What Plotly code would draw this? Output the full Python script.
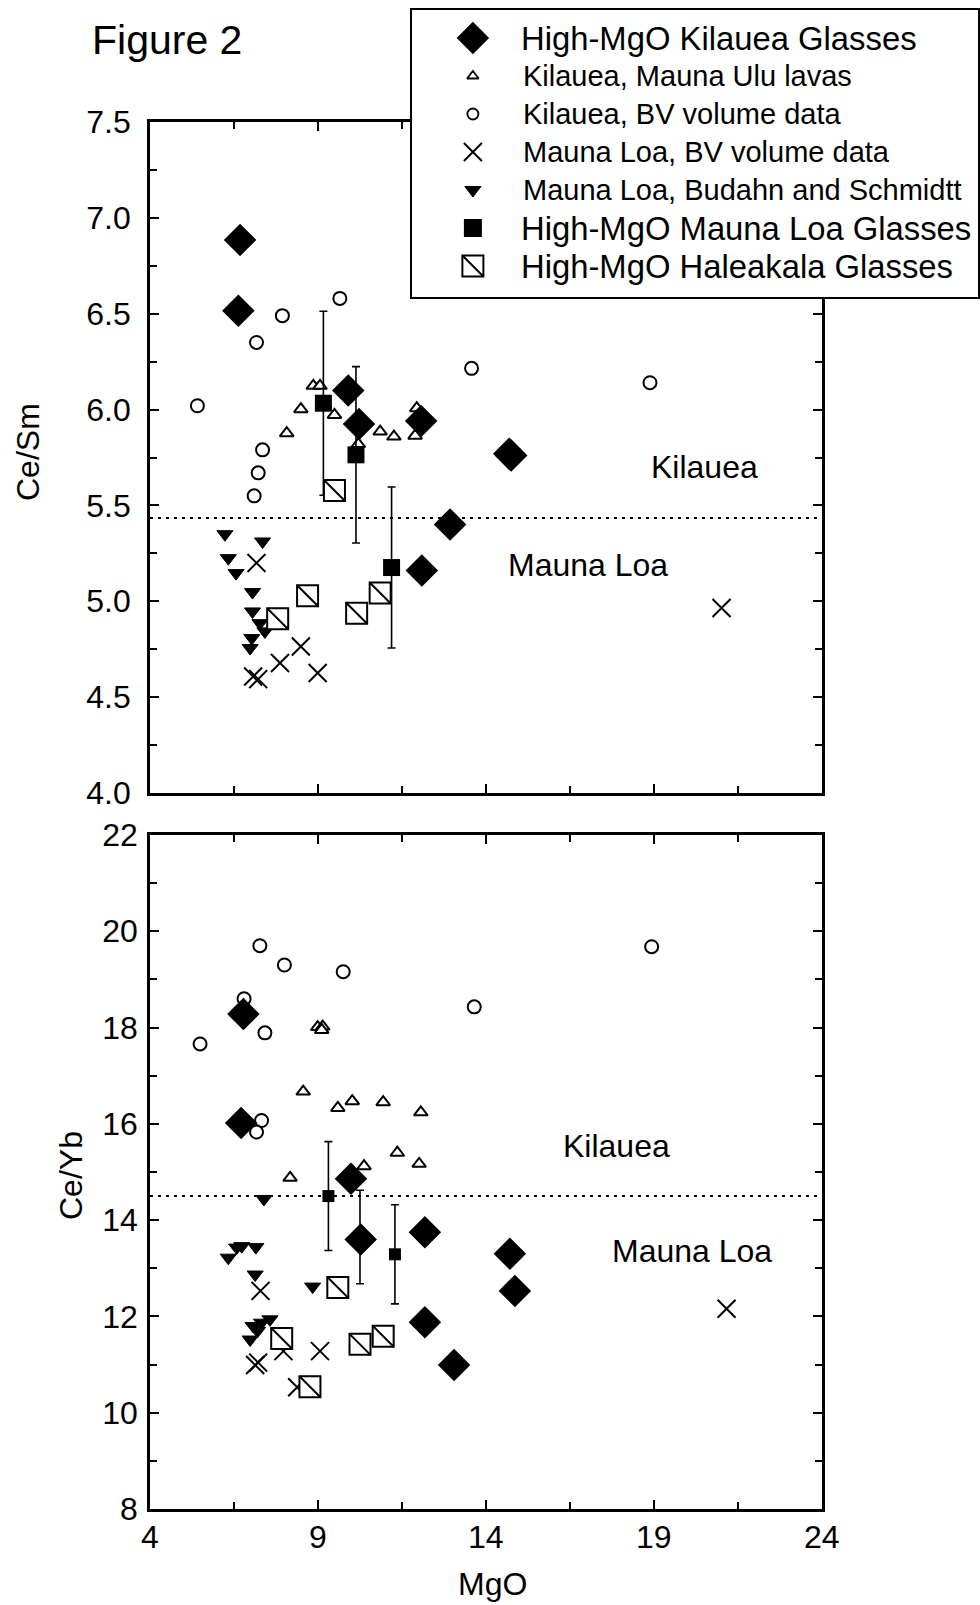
import plotly.graph_objects as go

# ---------------- data: upper panel (Ce/Sm vs MgO) ----------------
kil_glass_mgo_a = [6.68, 6.63, 9.90, 10.22, 12.07, 14.69, 14.75, 12.93, 12.09]
kil_glass_cesm = [6.885, 6.515, 6.10, 5.925, 5.94, 5.77, 5.76, 5.40, 5.16]

ulu_mgo_a = [8.07, 8.49, 8.86, 9.06, 9.49, 10.20, 10.85, 11.26, 11.89, 11.94]
ulu_cesm = [5.877, 6.002, 6.124, 6.124, 5.972, 5.82, 5.885, 5.859, 5.864, 6.007]

kbv_mgo_a = [5.41, 7.17, 7.94, 9.65, 7.35, 7.22, 7.10, 13.57, 18.88]
kbv_cesm = [6.02, 6.35, 6.49, 6.58, 5.79, 5.67, 5.55, 6.215, 6.14]

mlbv_mgo_a = [7.17, 7.87, 8.49, 8.99, 7.07, 7.22, 21.01]
mlbv_cesm = [5.20, 4.678, 4.764, 4.626, 4.608, 4.594, 4.965]

bs_mgo_a = [6.23, 7.35, 6.33, 6.56, 7.05, 7.05, 7.27, 7.42, 7.03, 6.98]
bs_cesm = [5.35, 5.312, 5.225, 5.147, 5.048, 4.947, 4.886, 4.843, 4.808, 4.756]

ml_glass_mgo_a = [9.16, 10.13, 11.19]
ml_glass_cesm = [6.033, 5.764, 5.176]
ml_glass_cesm_err = [0.48, 0.46, 0.42]

hal_mgo_a = [9.49, 8.69, 7.80, 10.15, 10.85]
hal_cesm = [5.578, 5.029, 4.909, 4.938, 5.043]

cesm_divide = 5.435

# ---------------- data: lower panel (Ce/Yb vs MgO) ----------------
kil_glass_mgo_b = [6.78, 6.71, 9.98, 10.27, 12.18, 12.18, 13.05, 14.71, 14.86]
kil_glass_ceyb = [18.28, 16.02, 14.86, 13.60, 13.75, 11.88, 10.99, 13.30, 12.53]

ulu_mgo_b = [8.99, 9.14, 9.11, 8.56, 9.59, 10.02, 10.94, 12.06, 11.36, 12.01, 10.37, 8.17]
ulu_ceyb = [18.01, 18.02, 17.95, 16.67, 16.33, 16.47, 16.45, 16.24, 15.40, 15.17, 15.12, 14.88]

kbv_mgo_b = [5.49, 7.27, 8.00, 9.75, 6.80, 7.42, 7.32, 7.17, 13.65, 18.93]
kbv_ceyb = [17.66, 19.70, 19.30, 19.16, 18.60, 17.89, 16.07, 15.83, 18.43, 19.68]

mlbv_mgo_b = [7.29, 9.06, 7.97, 7.22, 7.13, 8.38, 21.16]
mlbv_ceyb = [12.53, 11.28, 11.28, 11.04, 10.99, 10.53, 12.16]

bs_mgo_b = [7.39, 6.33, 6.58, 6.73, 7.15, 7.13, 8.84, 7.07, 7.32, 7.57, 6.98, 7.20]
bs_ceyb = [14.44, 13.22, 13.43, 13.46, 13.44, 12.87, 12.62, 11.80, 11.87, 11.94, 11.52, 11.70]

ml_glass_mgo_b = [9.31, 10.25, 11.29]
ml_glass_ceyb = [14.50, 13.65, 13.29]
ml_glass_ceyb_err = [1.13, 0.97, 1.03]

hal_mgo_b = [9.59, 7.92, 10.25, 10.94, 8.76]
hal_ceyb = [12.60, 11.54, 11.42, 11.59, 10.54]

ceyb_divide = 14.5

mgo_range = [4, 24]
mgo_ticks = [4, 9, 14, 19, 24]

legend_labels = [
    "High-MgO Kilauea Glasses",
    "Kilauea, Mauna Ulu lavas",
    "Kilauea, BV volume data",
    "Mauna Loa, BV volume data",
    "Mauna Loa, Budahn and Schmidtt",
    "High-MgO Mauna Loa Glasses",
    "High-MgO Haleakala Glasses",
]

FONT = "Liberation Sans, Arial, Helvetica, sans-serif"
BLK = "black"
W, H = 980, 1605

fig = go.Figure()


def add_panel(xa, ya, d, ml_size, divide):
    # dotted divide line across the full MgO range
    fig.add_trace(go.Scatter(x=mgo_range, y=[divide, divide], mode="lines", xaxis=xa, yaxis=ya,
                             line=dict(color=BLK, width=2, dash="3px,5px")))
    fig.add_trace(go.Scatter(x=d["kbv"][0], y=d["kbv"][1], mode="markers", xaxis=xa, yaxis=ya,
                             marker=dict(symbol="circle", size=13, color="white",
                                         line=dict(color=BLK, width=2))))
    fig.add_trace(go.Scatter(x=d["ulu"][0], y=d["ulu"][1], mode="markers", xaxis=xa, yaxis=ya,
                             marker=dict(symbol="triangle-up", size=12, color="white",
                                         line=dict(color=BLK, width=2))))
    fig.add_trace(go.Scatter(x=d["mlbv"][0], y=d["mlbv"][1], mode="markers", xaxis=xa, yaxis=ya,
                             marker=dict(symbol="x-thin", size=18, color=BLK,
                                         line=dict(color=BLK, width=2))))
    fig.add_trace(go.Scatter(x=d["bs"][0], y=d["bs"][1], mode="markers", xaxis=xa, yaxis=ya,
                             marker=dict(symbol="triangle-down", size=14, color=BLK,
                                         line=dict(color=BLK, width=1))))
    fig.add_trace(go.Scatter(x=d["ml"][0], y=d["ml"][1], mode="markers", xaxis=xa, yaxis=ya,
                             error_y=dict(type="data", array=d["ml"][2], visible=True,
                                          color=BLK, thickness=1.6, width=4),
                             marker=dict(symbol="square", size=ml_size, color=BLK,
                                         line=dict(color=BLK, width=0))))
    fig.add_trace(go.Scatter(x=d["hal"][0], y=d["hal"][1], mode="markers", xaxis=xa, yaxis=ya,
                             marker=dict(symbol="square", size=21, color="white",
                                         line=dict(color=BLK, width=2))))
    fig.add_trace(go.Scatter(x=d["hal"][0], y=d["hal"][1], mode="markers", xaxis=xa, yaxis=ya,
                             marker=dict(symbol="line-nw", size=21, color=BLK,
                                         line=dict(color=BLK, width=2))))
    fig.add_trace(go.Scatter(x=d["kg"][0], y=d["kg"][1], mode="markers", xaxis=xa, yaxis=ya,
                             marker=dict(symbol="diamond", size=25, color=BLK,
                                         line=dict(color=BLK, width=0))))


add_panel("x", "y", {
    "kbv": (kbv_mgo_a, kbv_cesm), "ulu": (ulu_mgo_a, ulu_cesm),
    "mlbv": (mlbv_mgo_a, mlbv_cesm), "bs": (bs_mgo_a, bs_cesm),
    "ml": (ml_glass_mgo_a, ml_glass_cesm, ml_glass_cesm_err),
    "hal": (hal_mgo_a, hal_cesm), "kg": (kil_glass_mgo_a, kil_glass_cesm)}, 17, cesm_divide)

add_panel("x2", "y2", {
    "kbv": (kbv_mgo_b, kbv_ceyb), "ulu": (ulu_mgo_b, ulu_ceyb),
    "mlbv": (mlbv_mgo_b, mlbv_ceyb), "bs": (bs_mgo_b, bs_ceyb),
    "ml": (ml_glass_mgo_b, ml_glass_ceyb, ml_glass_ceyb_err),
    "hal": (hal_mgo_b, hal_ceyb), "kg": (kil_glass_mgo_b, kil_glass_ceyb)}, 12, ceyb_divide)

# ---------------- custom legend in its own (overlapping) subplot ----------------
LEG_W, LEG_H = 567, 287
row_y = [28 + 38 * i for i in range(len(legend_labels))]
mk_x = 61
leg_markers = [
    dict(symbol="diamond", size=25, color=BLK, line=dict(color=BLK, width=0)),
    dict(symbol="triangle-up", size=10, color="white", line=dict(color=BLK, width=1.8)),
    dict(symbol="circle", size=11, color="white", line=dict(color=BLK, width=1.8)),
    dict(symbol="x-thin", size=18, color=BLK, line=dict(color=BLK, width=2)),
    dict(symbol="triangle-down", size=14, color=BLK, line=dict(color=BLK, width=1)),
    dict(symbol="square", size=18, color=BLK, line=dict(color=BLK, width=0)),
    dict(symbol="square", size=21, color="white", line=dict(color=BLK, width=2)),
]
for i, mk in enumerate(leg_markers):
    fig.add_trace(go.Scatter(x=[mk_x], y=[row_y[i]], mode="markers", xaxis="x3", yaxis="y3",
                             marker=mk))
fig.add_trace(go.Scatter(x=[mk_x], y=[row_y[6]], mode="markers", xaxis="x3", yaxis="y3",
                         marker=dict(symbol="line-nw", size=21, color=BLK,
                                     line=dict(color=BLK, width=2))))

annotations = []
big_rows = {0, 5, 6}
for i, lab in enumerate(legend_labels):
    annotations.append(dict(xref="x3", yref="y3", x=107 if i in big_rows else 109, y=row_y[i],
                            text=lab, showarrow=False, xanchor="left", yanchor="middle",
                            font=dict(family=FONT, size=32.8 if i in big_rows else 29, color=BLK)))

# region labels
for xr, yr, xv, yv, t in [("x", "y", 20.49, 5.70, "Kilauea"), ("x", "y", 17.04, 5.19, "Mauna Loa"),
                          ("x2", "y2", 17.89, 15.53, "Kilauea"), ("x2", "y2", 20.12, 13.36, "Mauna Loa")]:
    annotations.append(dict(xref=xr, yref=yr, x=xv, y=yv, text=t, showarrow=False,
                            xanchor="center", yanchor="middle",
                            font=dict(family=FONT, size=32, color=BLK)))

# x tick labels of the lower panel
for tv in mgo_ticks:
    annotations.append(dict(xref="x2", yref="paper", x=tv, y=1 - 1537 / H, text=str(tv),
                            showarrow=False, xanchor="center", yanchor="middle",
                            font=dict(family=FONT, size=32, color=BLK)))

annotations += [
    dict(xref="paper", yref="paper", x=90 / W, y=1 - 40 / H, text="Figure 2", showarrow=False,
         xanchor="left", yanchor="middle", font=dict(family=FONT, size=41, color=BLK)),
    dict(xref="paper", yref="paper", x=28 / W, y=1 - 452 / H, text="Ce/Sm", showarrow=False,
         textangle=-90, xanchor="center", yanchor="middle", font=dict(family=FONT, size=32, color=BLK)),
    dict(xref="paper", yref="paper", x=71 / W, y=1 - 1176 / H, text="Ce/Yb", showarrow=False,
         textangle=-90, xanchor="center", yanchor="middle", font=dict(family=FONT, size=32, color=BLK)),
    dict(xref="paper", yref="paper", x=492 / W, y=1 - 1584 / H, text="MgO", showarrow=False,
         xanchor="center", yanchor="middle", font=dict(family=FONT, size=32, color=BLK)),
]

xdom = [150 / W, 822 / W]
ydom_top = [1 - 793 / H, 1 - 122 / H]
ydom_bot = [1 - 1509 / H, 1 - 835 / H]

tickfont = dict(family=FONT, size=32, color=BLK)


def xax(anchor):
    return dict(domain=xdom, range=mgo_range, tick0=mgo_range[0], dtick=5, ticks="inside", ticklen=9,
                tickwidth=2, tickcolor=BLK, showticklabels=False, automargin=False,
                showline=True, linewidth=2.6, linecolor=BLK, mirror="allticks",
                showgrid=False, zeroline=False, anchor=anchor,
                minor=dict(dtick=2.5, tick0=mgo_range[0], ticks="inside", ticklen=7, tickwidth=2,
                           tickcolor=BLK, showgrid=False))


def yax(dom, rng, dtick, mdtick, fmt, anchor, standoff):
    return dict(domain=dom, range=rng, tick0=rng[0], dtick=dtick, ticks="inside", ticklen=9,
                tickwidth=2, tickcolor=BLK, tickformat=fmt, tickfont=tickfont, automargin=False,
                showline=True, linewidth=2.6, linecolor=BLK, mirror="allticks",
                showgrid=False, zeroline=False, anchor=anchor, ticklabelstandoff=standoff,
                minor=dict(dtick=mdtick, tick0=rng[0], ticks="inside", ticklen=7, tickwidth=2,
                           tickcolor=BLK, showgrid=False))


fig.update_layout(
    width=W, height=H, margin=dict(l=0, r=0, t=0, b=0, pad=0, autoexpand=False),
    paper_bgcolor="white", plot_bgcolor="white", showlegend=False,
    xaxis=xax("y"),
    yaxis=yax(ydom_top, [4, 7.5], 0.5, 0.25, ".1f", "x", 10),
    xaxis2=xax("y2"),
    yaxis2=yax(ydom_bot, [8, 22], 2, 1, "d", "x2", 3),
    xaxis3=dict(domain=[412 / W, 978 / W], range=[0, LEG_W], showline=True, linewidth=2,
                linecolor=BLK, mirror=True, showgrid=False, zeroline=False, showticklabels=False,
                ticks="", anchor="y3", fixedrange=True, automargin=False),
    yaxis3=dict(domain=[1 - 297 / H, 1 - 10 / H], range=[LEG_H, 0], showline=True, linewidth=2,
                linecolor=BLK, mirror=True, showgrid=False, zeroline=False, showticklabels=False,
                ticks="", anchor="x3", fixedrange=True, automargin=False),
    annotations=annotations,
)

fig.write_html("out.html")
